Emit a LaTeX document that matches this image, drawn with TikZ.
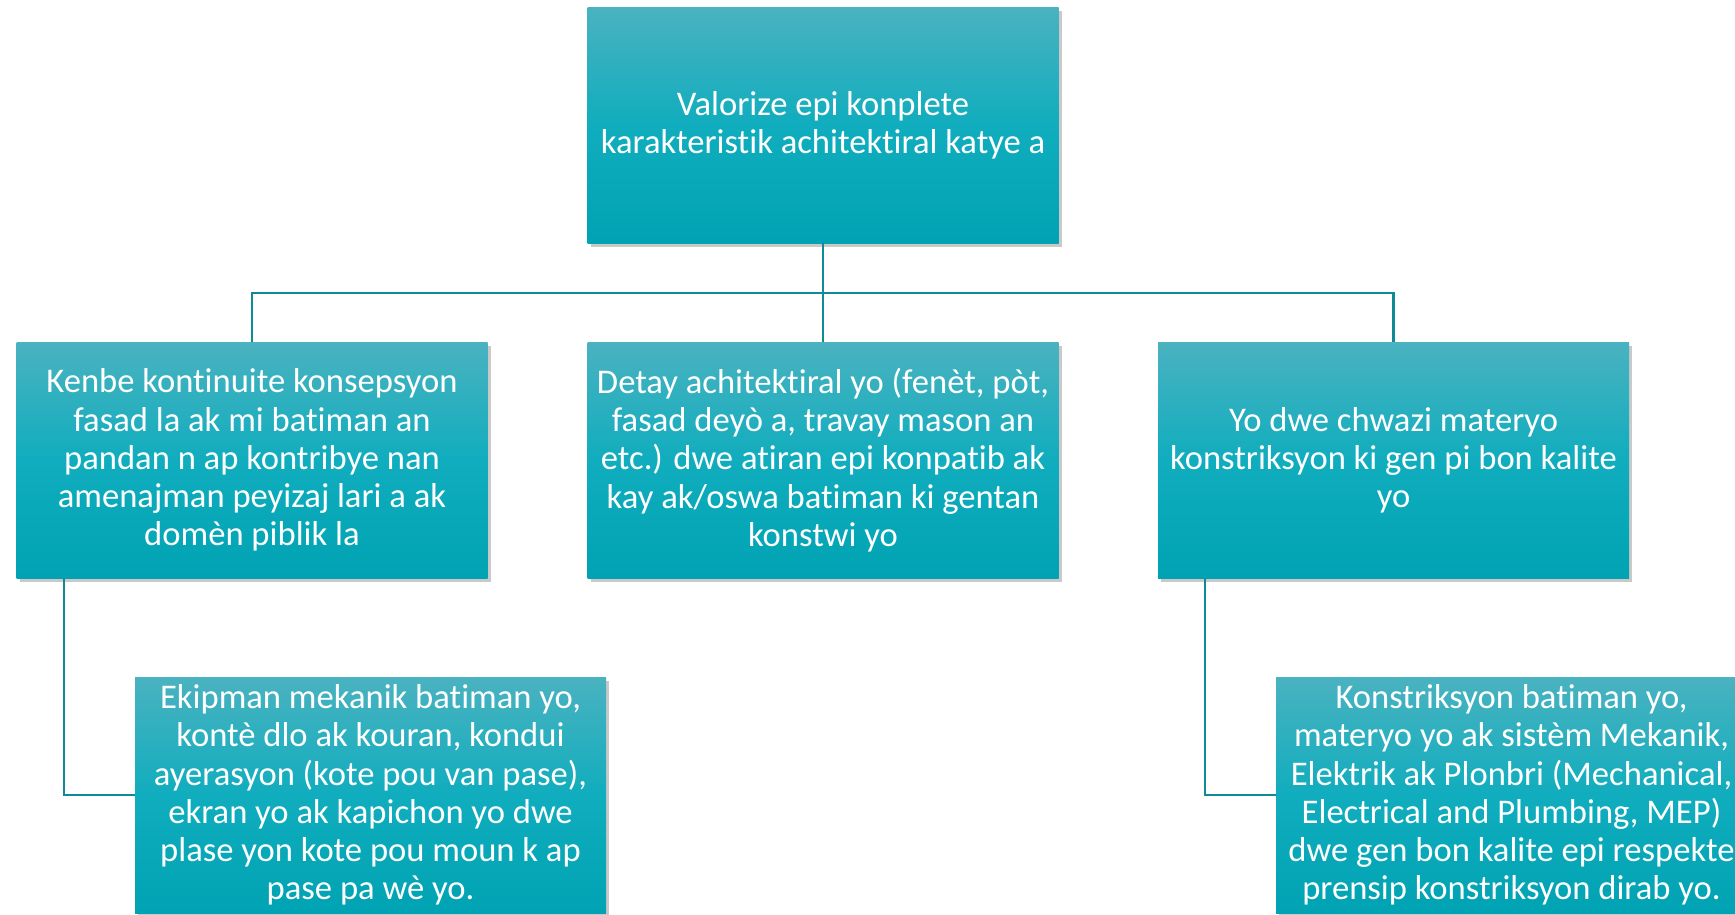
\documentclass[tikz,border=0pt]{standalone}
\usepackage{fontspec}
\setmainfont{Carlito}[Ligatures=NoCommon]
\usetikzlibrary{shadows}
\definecolor{boxtop}{RGB}{74,178,192}
\definecolor{boxmid}{RGB}{16,173,190}
\definecolor{boxbot}{RGB}{0,163,179}
\definecolor{linkcol}{RGB}{14,139,151}
\tikzset{
  tealbox/.style={rectangle, minimum width=471pt, minimum height=236pt, inner sep=0pt,
    top color=boxtop, bottom color=boxbot, middle color=boxmid, draw=none,
    text=white, align=center,
    font=\fontsize{34.6}{38.2}\selectfont,
    drop shadow={shadow xshift=3pt, shadow yshift=-4pt, opacity=0.3, fill=black!70}},
  link/.style={draw=linkcol, line width=2.6pt}
}
\begin{document}
\begin{tikzpicture}[x=1pt,y=-1pt]
\useasboundingbox (0,0) rectangle (1735,914);
\clip (0,0) rectangle (1735,914);
\coordinate (bus) at (823,293);
\node[tealbox] (top) at (823,125) {Valorize epi konplete\\karakteristik achitektiral katye a};
\node[tealbox] (l) at (252,460) {Kenbe kontinuite konsepsyon\\fasad la ak mi batiman an\\pandan n ap kontribye nan\\amenajman peyizaj lari a ak\\domèn piblik la};
\node[tealbox] (m) at (823,460) {Detay achitektiral yo (fenèt, pòt,\\fasad deyò a, travay mason an\\etc.) dwe atiran epi konpatib ak\\kay ak/oswa batiman ki gentan\\konstwi yo};
\node[tealbox] (r) at (1393.5,460) {Yo dwe chwazi materyo\\konstriksyon ki gen pi bon kalite\\yo};
\draw[link] (top.south) -- (m.north);
\draw[link] (l.north) -- (l.north |- bus) -- (r.north |- bus) -- (r.north);
\coordinate (lc) at (64,578);
\coordinate (rc) at (1205,578);
\node[tealbox] (bl) at (370.5,795) {Ekipman mekanik batiman yo,\\kontè dlo ak kouran, kondui\\ayerasyon (kote pou van pase),\\ekran yo ak kapichon yo dwe\\plase yon kote pou moun k ap\\pase pa wè yo.};
\node[tealbox] (br) at (1511.5,795) {Konstriksyon batiman yo,\\materyo yo ak sistèm Mekanik,\\Elektrik ak Plonbri (Mechanical,\\Electrical and Plumbing, MEP)\\dwe gen bon kalite epi respekte\\prensip konstriksyon dirab yo.};
\draw[link] (lc) |- (bl.west);
\draw[link] (rc) |- (br.west);
\end{tikzpicture}
\end{document}
